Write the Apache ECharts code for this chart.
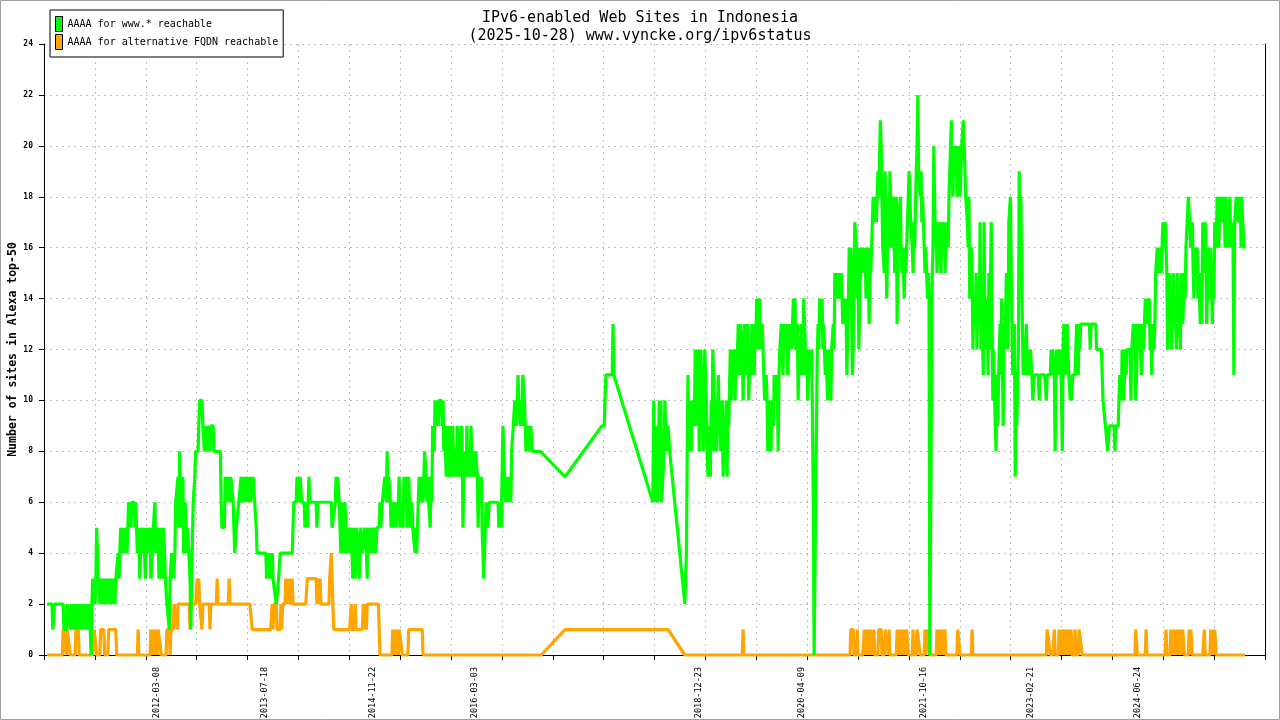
<!DOCTYPE html>
<html><head><meta charset="utf-8">
<script src="https://cdn.jsdelivr.net/npm/echarts@6/dist/echarts.min.js"></script>
<style>html,body{margin:0;padding:0;background:#fff}#c{width:1280px;height:720px}</style>
</head><body><div id="c"></div><script>
const titleLines = ['IPv6-enabled Web Sites in Indonesia', '(2025-10-28) www.vyncke.org/ipv6status'];
const seriesNames = ['AAAA for www.* reachable', 'AAAA for alternative FQDN reachable'];
const yAxisName = 'Number of sites in Alexa top-50';
const tickDates = ['2012-03-08','2013-07-18','2014-11-22','2016-03-03','2018-12-23','2020-04-09','2021-10-16','2023-02-21','2024-06-24'];
const xRange = [2010.77, 2026.07];  // decimal years
const yRange = [0, 24];

// [decimal year, number of sites]
const wwwReachable = [
[2010.81,2],[2010.87,2],[2010.88,1],[2010.90,2],[2011.01,2],[2011.02,1],[2011.05,1],[2011.06,2],[2011.08,2],[2011.10,1],[2011.11,2],[2011.13,1],[2011.15,2],[2011.17,1],[2011.18,2],[2011.21,1],[2011.22,2],[2011.25,1],[2011.26,2],[2011.28,1],[2011.30,2],[2011.32,1],[2011.33,2],[2011.35,1],[2011.36,0],[2011.37,2],[2011.38,3],[2011.41,2],[2011.42,3],[2011.43,5],[2011.45,3],[2011.47,2],[2011.48,3],[2011.51,2],[2011.52,3],[2011.55,2],[2011.56,3],[2011.58,2],[2011.60,3],[2011.62,2],[2011.63,3],[2011.66,2],[2011.67,3],[2011.70,4],[2011.71,3],[2011.72,4],[2011.73,5],[2011.75,4],[2011.76,5],[2011.77,4],
[2011.80,5],[2011.81,4],[2011.82,5],[2011.83,6],[2011.86,5],[2011.87,6],[2011.90,6],[2011.91,5],[2011.92,6],[2011.94,4],[2011.96,5],[2011.97,3],[2011.99,5],[2012.01,4],[2012.02,5],[2012.04,3],[2012.06,5],[2012.07,4],[2012.10,5],[2012.11,3],[2012.14,5],[2012.16,6],[2012.17,4],[2012.20,5],[2012.21,3],[2012.24,5],[2012.25,3],[2012.27,5],[2012.29,3],[2012.31,2],[2012.34,1],[2012.35,3],[2012.37,4],[2012.39,3],[2012.41,4],[2012.42,6],[2012.45,7],[2012.46,5],[2012.47,8],[2012.49,5],[2012.51,7],[2012.52,4],[2012.54,6],[2012.56,4],[2012.57,5],[2012.60,3],[2012.61,1],[2012.62,3],[2012.64,6],[2012.66,7],[2012.67,8],[2012.70,8],[2012.71,9],[2012.72,10],[2012.75,10],[2012.76,9],
[2012.78,8],[2012.79,9],[2012.81,8],[2012.83,9],[2012.85,8],[2012.86,9],[2012.89,9],[2012.90,8],[2012.98,8],[2012.99,6],[2013.00,5],[2013.03,5],[2013.04,7],[2013.06,6],[2013.08,7],[2013.10,6],[2013.11,7],[2013.14,6],[2013.15,5],[2013.16,4],[2013.18,5],[2013.20,5],[2013.21,6],[2013.24,7],[2013.25,6],[2013.28,7],[2013.29,6],[2013.31,7],[2013.33,6],[2013.35,7],[2013.36,6],[2013.39,7],[2013.41,7],[2013.43,5],[2013.44,4],[2013.55,4],[2013.56,3],[2013.59,4],[2013.60,3],[2013.63,4],[2013.64,3],[2013.66,3],[2013.68,2],[2013.70,2],[2013.71,3],[2013.73,4],
[2013.88,4],[2013.89,5],[2013.90,6],[2013.93,6],[2013.94,7],[2013.97,6],[2013.98,7],[2014.00,6],[2014.03,6],[2014.04,5],[2014.05,6],[2014.07,5],[2014.08,6],[2014.09,7],[2014.10,6],[2014.18,6],[2014.19,5],[2014.20,6],[2014.37,6],[2014.38,5],[2014.40,5],[2014.42,6],[2014.43,7],[2014.44,6],[2014.45,7],[2014.47,6],[2014.48,5],[2014.49,4],[2014.50,6],[2014.53,4],[2014.54,6],[2014.57,4],[2014.58,5],[2014.60,4],[2014.62,5],[2014.64,3],[2014.66,5],[2014.67,3],[2014.69,5],[2014.71,4],[2014.72,3],[2014.74,5],[2014.76,4],
[2014.79,5],[2014.81,4],[2014.82,3],[2014.83,5],[2014.86,4],[2014.87,5],[2014.89,4],[2014.91,5],[2014.93,4],[2014.94,5],[2014.97,5],[2014.98,6],[2014.99,5],[2015.01,6],[2015.03,6],[2015.04,7],[2015.06,6],[2015.07,8],[2015.08,6],[2015.09,7],[2015.11,6],[2015.12,5],[2015.13,6],[2015.14,5],[2015.17,6],[2015.18,5],[2015.21,6],[2015.22,7],[2015.23,5],[2015.24,6],[2015.27,5],[2015.28,7],[2015.29,6],[2015.31,7],[2015.32,5],[2015.33,6],[2015.34,7],[2015.36,5],[2015.38,6],[2015.39,5],[2015.42,4],[2015.43,5],[2015.44,4],[2015.46,6],[2015.47,7],[2015.48,6],[2015.49,7],[2015.52,6],[2015.53,7],[2015.54,8],[2015.56,7],[2015.57,6],[2015.58,7],[2015.59,6],[2015.61,5],[2015.62,7],[2015.63,6],[2015.64,9],[2015.66,8],[2015.67,10],[2015.68,9],[2015.69,10],[2015.71,9],[2015.72,10],[2015.75,10],[2015.76,9],[2015.77,10],
[2015.78,8],[2015.79,9],[2015.81,7],[2015.82,9],[2015.83,8],[2015.85,7],[2015.86,9],[2015.87,8],[2015.88,7],[2015.89,9],[2015.91,7],[2015.92,8],[2015.93,7],[2015.95,9],[2015.96,8],[2015.97,7],[2015.98,8],[2016.00,9],[2016.01,8],[2016.02,5],[2016.03,7],[2016.05,8],[2016.06,7],[2016.07,9],[2016.08,7],[2016.10,8],[2016.11,7],[2016.12,9],[2016.13,8],[2016.15,7],[2016.16,8],[2016.17,7],[2016.18,8],[2016.20,7],[2016.21,5],[2016.22,7],[2016.23,6],[2016.25,7],[2016.26,5],[2016.27,4],[2016.28,3],[2016.30,5],[2016.31,6],[2016.33,5],[2016.35,6],[2016.38,6],[2016.46,6],[2016.47,5],[2016.48,6],[2016.50,5],[2016.51,7],[2016.52,9],[2016.53,8],[2016.55,6],[2016.56,7],[2016.57,6],[2016.58,7],[2016.60,6],[2016.61,7],[2016.62,6],[2016.63,8],[2016.65,9],[2016.66,9],[2016.67,10],[2016.69,9],[2016.70,10],[2016.71,11],[2016.72,10],[2016.74,9],[2016.75,10],[2016.76,9],[2016.77,11],[2016.79,10],
[2016.80,9],[2016.81,8],[2016.82,9],[2016.84,8],[2016.85,9],[2016.86,8],[2016.87,9],[2016.89,8],[2016.99,8],[2017.30,7],[2017.76,9],[2017.79,9],[2017.80,10],[2017.81,11],[2017.89,11],[2017.90,13],[2017.91,11],
[2018.40,6],[2018.41,10],[2018.43,6],[2018.44,9],[2018.45,7],[2018.46,6],[2018.48,10],[2018.49,8],[2018.50,10],[2018.51,6],[2018.54,8],[2018.55,10],[2018.56,9],[2018.58,8],[2018.59,9],[2018.61,8],[2018.80,2],
[2018.82,4],[2018.83,8],[2018.84,11],[2018.85,8],[2018.87,10],[2018.88,8],[2018.89,10],[2018.92,9],[2018.93,12],[2018.94,9],[2018.95,10],[2018.97,12],[2018.98,8],[2018.99,10],[2019.00,12],[2019.02,10],[2019.03,8],[2019.04,9],[2019.05,12],[2019.07,10],[2019.08,8],[2019.09,7],[2019.10,9],[2019.12,7],[2019.13,10],[2019.14,8],[2019.15,12],[2019.17,10],[2019.18,8],[2019.19,10],[2019.20,8],[2019.22,11],[2019.23,9],[2019.24,10],[2019.25,8],[2019.27,10],[2019.28,7],[2019.29,9],[2019.30,8],[2019.32,10],[2019.33,7],[2019.34,10],[2019.35,9],[2019.37,12],[2019.38,10],[2019.39,11],[2019.40,12],[2019.42,11],[2019.43,10],[2019.44,12],[2019.45,11],[2019.47,13],[2019.48,12],[2019.49,11],[2019.50,13],[2019.52,12],[2019.53,10],[2019.54,12],[2019.55,13],[2019.57,11],[2019.58,12],[2019.59,13],[2019.60,10],[2019.62,12],[2019.63,11],[2019.64,13],[2019.65,12],[2019.67,11],[2019.68,13],[2019.69,12],[2019.70,14],[2019.72,12],[2019.73,13],[2019.74,14],[2019.75,12],[2019.77,13],[2019.78,12],
[2019.79,11],[2019.80,10],[2019.82,11],[2019.83,10],[2019.84,8],[2019.86,10],[2019.87,9],[2019.88,8],[2019.89,10],[2019.91,9],[2019.92,11],[2019.93,10],[2019.94,11],[2019.96,10],[2019.97,8],[2019.98,11],[2019.99,12],[2020.01,13],[2020.02,12],[2020.03,11],[2020.04,13],[2020.06,12],[2020.07,13],[2020.08,12],[2020.09,11],[2020.11,13],[2020.12,12],[2020.13,13],[2020.14,12],[2020.16,14],[2020.17,13],[2020.18,14],[2020.19,12],[2020.21,13],[2020.22,10],[2020.23,12],[2020.24,11],[2020.26,13],[2020.27,12],[2020.28,11],[2020.29,14],[2020.31,12],[2020.32,11],[2020.33,12],[2020.34,10],[2020.36,12],[2020.37,11],[2020.39,12],[2020.41,6],[2020.42,0],[2020.43,0],[2020.44,6],[2020.46,12],[2020.47,13],[2020.48,12],[2020.49,14],[2020.51,13],[2020.52,14],[2020.53,12],[2020.54,13],[2020.56,11],[2020.57,12],[2020.58,11],[2020.59,10],[2020.61,12],[2020.62,11],[2020.63,10],[2020.64,12],[2020.66,13],[2020.67,12],[2020.68,15],[2020.69,14],[2020.71,15],[2020.72,14],[2020.73,15],[2020.74,14],[2020.76,15],[2020.77,14],[2020.78,13],
[2020.80,14],[2020.81,13],[2020.82,14],[2020.83,11],[2020.85,14],[2020.86,16],[2020.87,15],[2020.88,16],[2020.90,11],[2020.91,12],[2020.92,15],[2020.93,17],[2020.95,16],[2020.96,14],[2020.97,16],[2020.98,12],[2021.00,15],[2021.01,16],[2021.02,15],[2021.03,16],[2021.05,15],[2021.06,16],[2021.07,14],[2021.08,16],[2021.10,15],[2021.11,13],[2021.12,16],[2021.13,15],[2021.15,17],[2021.16,18],[2021.17,17],[2021.18,18],[2021.20,17],[2021.21,18],[2021.22,19],[2021.23,18],[2021.25,21],[2021.26,20],[2021.27,18],[2021.28,16],[2021.30,15],[2021.31,19],[2021.32,16],[2021.33,14],[2021.35,18],[2021.36,16],[2021.37,19],[2021.38,18],[2021.40,16],[2021.41,18],[2021.42,17],[2021.43,15],[2021.45,18],[2021.46,13],[2021.47,16],[2021.48,17],[2021.50,18],[2021.51,16],[2021.52,15],[2021.53,16],[2021.55,14],[2021.56,16],[2021.57,15],[2021.58,16],[2021.60,18],[2021.61,19],[2021.62,18],[2021.63,17],[2021.65,16],[2021.66,15],[2021.67,17],[2021.68,16],[2021.70,19],[2021.71,20],[2021.72,22],[2021.73,19],[2021.75,18],[2021.76,19],[2021.77,17],[2021.78,18],
[2021.80,16],[2021.81,15],[2021.82,16],[2021.84,14],[2021.85,15],[2021.86,14],[2021.87,0],[2021.89,0],[2021.90,15],[2021.91,16],[2021.92,20],[2021.94,16],[2021.95,17],[2021.96,15],[2021.97,16],[2021.99,17],[2022.00,16],[2022.01,15],[2022.02,17],[2022.04,16],[2022.05,17],[2022.06,15],[2022.07,16],[2022.09,17],[2022.10,16],[2022.11,18],[2022.12,19],[2022.14,21],[2022.15,19],[2022.16,18],[2022.17,20],[2022.19,19],[2022.20,20],[2022.21,18],[2022.22,19],[2022.24,20],[2022.25,18],[2022.26,19],[2022.27,20],[2022.29,21],[2022.30,20],[2022.31,19],[2022.32,18],[2022.34,17],[2022.35,16],[2022.36,18],[2022.37,14],[2022.39,16],[2022.40,15],[2022.41,12],[2022.42,14],[2022.44,13],[2022.45,15],[2022.46,12],[2022.47,14],[2022.49,13],[2022.50,17],[2022.51,12],[2022.52,14],[2022.54,11],[2022.55,17],[2022.56,13],[2022.57,12],[2022.59,14],[2022.60,11],[2022.61,15],[2022.62,12],[2022.64,17],[2022.65,13],[2022.66,10],[2022.67,12],[2022.69,9],[2022.70,8],[2022.71,11],[2022.72,9],[2022.74,12],[2022.75,13],[2022.76,11],[2022.77,14],[2022.79,9],
[2022.80,13],[2022.81,12],[2022.83,15],[2022.84,13],[2022.85,12],[2022.86,17],[2022.88,18],[2022.89,15],[2022.90,13],[2022.91,11],[2022.93,13],[2022.94,7],[2022.95,10],[2022.96,9],[2022.98,12],[2022.99,19],[2023.00,16],[2023.01,18],[2023.03,13],[2023.04,11],[2023.05,12],[2023.06,11],[2023.08,13],[2023.09,11],[2023.10,12],[2023.11,11],[2023.13,12],[2023.15,11],[2023.16,10],[2023.18,11],[2023.23,11],[2023.24,10],[2023.25,11],[2023.31,11],[2023.33,10],[2023.34,11],[2023.38,11],[2023.39,12],[2023.40,11],[2023.41,12],[2023.43,11],[2023.44,8],[2023.45,11],[2023.46,12],[2023.48,11],[2023.49,12],[2023.50,11],[2023.51,12],[2023.53,8],[2023.54,12],[2023.55,13],[2023.56,12],[2023.58,11],[2023.59,13],[2023.60,12],[2023.61,11],[2023.63,10],[2023.64,11],[2023.65,10],[2023.66,11],[2023.69,11],[2023.70,12],[2023.71,13],[2023.73,11],[2023.74,13],[2023.75,12],[2023.76,13],
[2023.87,13],[2023.88,12],[2023.89,13],[2023.95,13],[2023.96,12],[2024.02,12],[2024.03,11],[2024.04,10],[2024.07,9],[2024.09,9],[2024.10,8],[2024.12,9],[2024.18,9],[2024.19,8],[2024.20,9],[2024.23,9],[2024.24,10],[2024.25,11],[2024.27,10],[2024.28,12],[2024.29,11],[2024.30,10],[2024.32,12],[2024.33,11],[2024.34,12],[2024.38,12],[2024.39,10],[2024.40,12],[2024.42,13],[2024.43,12],[2024.44,13],[2024.45,10],[2024.47,12],[2024.48,13],[2024.49,12],[2024.50,13],[2024.52,11],[2024.53,12],[2024.54,13],[2024.55,12],[2024.57,14],[2024.58,13],[2024.59,14],[2024.60,13],[2024.62,14],[2024.63,12],[2024.64,13],[2024.65,11],[2024.67,13],[2024.68,12],[2024.69,13],[2024.70,15],[2024.72,16],[2024.73,15],[2024.74,16],[2024.77,15],[2024.78,16],[2024.79,17],
[2024.80,16],[2024.82,17],[2024.83,16],[2024.84,15],[2024.85,12],[2024.87,15],[2024.88,13],[2024.89,14],[2024.90,12],[2024.92,15],[2024.93,13],[2024.94,14],[2024.96,12],[2024.97,15],[2024.98,13],[2024.99,14],[2025.01,12],[2025.02,15],[2025.03,14],[2025.04,13],[2025.06,15],[2025.07,14],[2025.08,16],[2025.09,16],[2025.11,18],[2025.13,18],[2025.14,16],[2025.16,17],[2025.17,15],[2025.18,14],[2025.19,16],[2025.21,15],[2025.22,16],[2025.23,14],[2025.24,15],[2025.26,13],[2025.27,15],[2025.28,13],[2025.29,17],[2025.31,15],[2025.32,17],[2025.33,16],[2025.34,13],[2025.36,16],[2025.37,15],[2025.38,14],[2025.39,16],[2025.41,13],[2025.42,15],[2025.43,14],[2025.44,17],[2025.46,16],[2025.47,18],[2025.48,17],[2025.49,16],[2025.51,18],[2025.52,17],[2025.53,18],[2025.54,17],[2025.56,18],[2025.57,16],[2025.58,18],[2025.59,17],[2025.61,16],[2025.62,17],[2025.63,18],[2025.64,16],[2025.66,17],[2025.67,16],[2025.68,11],[2025.69,17],[2025.71,18],[2025.72,17],[2025.73,18],[2025.74,17],[2025.76,18],[2025.77,16],[2025.78,18],[2025.79,17],[2025.81,16],[2025.82,16]
];

const altReachable = [
[2010.81,0],[2011.00,0],[2011.01,1],[2011.03,1],[2011.05,0],[2011.06,1],[2011.08,1],[2011.10,0],[2011.16,0],[2011.17,1],[2011.20,1],[2011.21,0],[2011.38,0],[2011.40,1],[2011.42,1],[2011.43,0],[2011.47,0],[2011.48,1],[2011.52,1],[2011.53,0],[2011.57,0],[2011.58,1],[2011.67,1],[2011.68,0],[2011.94,0],[2011.95,1],[2011.96,0],[2012.10,0],[2012.11,1],[2012.12,0],[2012.14,1],[2012.16,0],[2012.17,1],[2012.19,0],[2012.20,1],[2012.22,1],[2012.24,0],[2012.30,0],[2012.31,1],[2012.34,1],[2012.35,0],[2012.36,1],[2012.39,1],[2012.40,2],[2012.42,2],[2012.44,1],[2012.45,2],[2012.59,2],[2012.60,1],[2012.61,2],[2012.67,2],[2012.69,3],[2012.70,2],[2012.71,3],[2012.72,2],[2012.75,1],[2012.76,2],[2012.84,2],[2012.85,1],[2012.86,2],[2012.93,2],[2012.94,3],[2012.95,2],[2013.08,2],[2013.09,3],[2013.10,2],[2013.35,2],[2013.38,1],[2013.61,1],[2013.63,2],[2013.64,1],[2013.65,2],[2013.68,2],[2013.69,1],[2013.73,1],[2013.74,2],[2013.75,1],[2013.76,2],[2013.79,2],[2013.80,3],[2013.81,2],[2013.83,3],[2013.84,2],[2013.85,3],[2013.86,2],[2013.88,3],[2013.89,2],[2014.05,2],[2014.07,3],[2014.18,3],[2014.19,2],[2014.20,3],[2014.22,2],[2014.23,3],[2014.24,2],[2014.34,2],[2014.35,3],[2014.37,4],[2014.38,3],[2014.39,2],[2014.40,1],[2014.60,1],[2014.62,2],[2014.63,1],[2014.66,1],[2014.67,2],[2014.68,1],[2014.76,1],[2014.77,2],[2014.78,1],[2014.79,2],[2014.81,1],[2014.82,2],[2014.96,2],[2014.98,0],[2015.13,0],[2015.14,1],[2015.16,0],[2015.17,1],[2015.18,0],[2015.19,1],[2015.21,0],[2015.22,1],[2015.24,1],[2015.26,0],[2015.33,0],[2015.34,1],[2015.51,1],[2015.52,0],[2017.00,0],[2017.30,1],[2018.59,1],[2018.80,0],[2019.52,0],[2019.53,1],[2019.54,0],
[2020.87,0],[2020.88,1],[2020.91,1],[2020.92,0],[2020.95,0],[2020.96,1],[2020.97,0],[2021.03,0],[2021.05,1],[2021.06,0],[2021.07,1],[2021.08,0],[2021.10,1],[2021.11,0],[2021.12,1],[2021.13,0],[2021.15,1],[2021.16,0],[2021.17,1],[2021.18,0],[2021.22,0],[2021.23,1],[2021.26,1],[2021.27,0],[2021.30,0],[2021.31,1],[2021.33,1],[2021.35,0],[2021.36,1],[2021.37,0],[2021.45,0],[2021.46,1],[2021.47,0],[2021.48,1],[2021.50,0],[2021.51,1],[2021.52,0],[2021.53,1],[2021.55,0],[2021.56,1],[2021.57,0],[2021.58,1],[2021.60,0],[2021.65,0],[2021.66,1],[2021.67,0],[2021.70,0],[2021.71,1],[2021.73,1],[2021.75,0],[2021.80,0],[2021.81,1],[2021.82,0],[2021.84,1],[2021.86,1],[2021.87,0],[2021.95,0],[2021.96,1],[2021.97,0],[2021.99,1],[2022.00,0],[2022.01,1],[2022.02,0],[2022.04,1],[2022.05,0],[2022.06,1],[2022.07,0],[2022.21,0],[2022.22,1],[2022.24,1],[2022.25,0],[2022.39,0],[2022.40,1],[2022.41,0],
[2023.33,0],[2023.34,1],[2023.36,1],[2023.38,0],[2023.41,0],[2023.43,1],[2023.44,0],[2023.48,0],[2023.49,1],[2023.50,0],[2023.51,1],[2023.53,0],[2023.54,1],[2023.55,0],[2023.56,1],[2023.58,0],[2023.59,1],[2023.60,0],[2023.61,1],[2023.63,0],[2023.64,1],[2023.65,0],[2023.68,0],[2023.69,1],[2023.70,0],[2023.73,0],[2023.74,1],[2023.76,1],[2023.78,0],[2024.44,0],[2024.45,1],[2024.47,0],[2024.57,0],[2024.58,1],[2024.59,0],[2024.82,0],[2024.83,1],[2024.84,0],[2024.88,0],[2024.89,1],[2024.90,0],[2024.92,1],[2024.93,0],[2024.94,1],[2024.96,0],[2024.97,1],[2024.98,0],[2024.99,1],[2025.01,0],[2025.02,1],[2025.03,0],[2025.04,1],[2025.06,0],[2025.11,0],[2025.12,1],[2025.13,0],[2025.14,1],[2025.16,0],[2025.29,0],[2025.31,1],[2025.32,0],[2025.38,0],[2025.39,1],[2025.41,0],[2025.42,1],[2025.43,0],[2025.44,1],[2025.46,0],[2025.82,0]
];

// date string -> decimal year (for positioning the date labels on the year axis)
function toYear(s) {
  const p = s.split('-').map(Number);
  const t0 = Date.UTC(p[0], 0, 1), t1 = Date.UTC(p[0] + 1, 0, 1);
  return p[0] + (Date.UTC(p[0], p[1] - 1, p[2]) - t0) / (t1 - t0);
}
const tickPos = tickDates.map(toYear);
const FONT = 'DejaVu Sans Mono';
const gridDash = { color: '#c0c0c0', type: [2, 4], width: 1 };

const chart = echarts.init(document.getElementById('c'), null, { renderer: 'canvas' });
chart.setOption({
  animation: false,
  backgroundColor: '#ffffff',
  title: {
    text: titleLines.join('\n'), left: 'center', top: 4,
    textStyle: { fontFamily: FONT, fontSize: 15, fontWeight: 'normal', color: '#000', lineHeight: 18 }
  },
  legend: {
    orient: 'vertical', left: 50, top: 10, padding: [6, 5, 7, 5], itemGap: 2,
    itemWidth: 7, itemHeight: 15, icon: 'rect',
    borderColor: '#000', borderWidth: 1, backgroundColor: '#fff',
    textStyle: { fontFamily: FONT, fontSize: 10, color: '#000' },
    itemStyle: { borderColor: '#000', borderWidth: 1 },
    data: seriesNames, z: 10
  },
  grid: { left: 44, right: 15, top: 44, bottom: 65, containLabel: false, outerBoundsMode: 'none' },
  xAxis: [
    {
      type: 'value', min: xRange[0], max: xRange[1], position: 'bottom',
      axisLine: { show: false }, axisTick: { show: false }, splitLine: { show: false },
      axisLabel: {
        customValues: tickPos, rotate: 90, margin: 12,
        fontFamily: FONT, fontSize: 8.5, color: '#000',
        formatter: function (v) {
          for (let i = 0; i < tickPos.length; i++) if (Math.abs(tickPos[i] - v) < 1e-6) return tickDates[i];
          return '';
        }
      }
    },
    {
      type: 'value', min: 0, max: 24, interval: 1, position: 'bottom',
      axisLine: { show: true, lineStyle: { color: '#000', width: 1 } },
      axisTick: { show: true, inside: false, length: 5, lineStyle: { color: '#000' } },
      axisLabel: { show: false },
      splitLine: { show: true, lineStyle: gridDash }
    }
  ],
  yAxis: [
    {
      type: 'value', min: yRange[0], max: yRange[1], interval: 2,
      name: yAxisName, nameLocation: 'middle', nameGap: 25, nameMoveOverlap: false,
      nameTextStyle: { fontFamily: FONT, fontSize: 11.5, fontWeight: 'bold', color: '#000' },
      axisLine: { show: true, lineStyle: { color: '#000', width: 1 } },
      axisTick: { show: true, inside: false, length: 5, lineStyle: { color: '#000' } },
      axisLabel: { margin: 11, fontFamily: FONT, fontSize: 8, fontWeight: 'bold', color: '#000' },
      splitLine: { show: true, lineStyle: gridDash }
    },
    {
      type: 'value', min: yRange[0], max: yRange[1], position: 'right',
      axisLine: { show: true, lineStyle: { color: '#000', width: 1 } },
      axisTick: { show: false }, axisLabel: { show: false }, splitLine: { show: false }
    }
  ],
  graphic: [{
    type: 'rect', silent: true, z: 100,
    shape: { x: 0.5, y: 0.5, width: 1279, height: 719 },
    style: { fill: 'none', stroke: '#a0a0a0', lineWidth: 1 }
  }],
  series: [
    {
      name: seriesNames[0], type: 'line', xAxisIndex: 0, yAxisIndex: 0,
      data: wwwReachable, showSymbol: false, symbol: 'none', clip: false, z: 3,
      color: '#00ff00', lineStyle: { width: 3.2, color: '#00ff00', join: 'bevel' }
    },
    {
      name: seriesNames[1], type: 'line', xAxisIndex: 0, yAxisIndex: 0,
      data: altReachable, showSymbol: false, symbol: 'none', clip: false, z: 2,
      color: '#ffa500', lineStyle: { width: 3.2, color: '#ffa500', join: 'bevel' }
    }
  ]
});
</script></body></html>
